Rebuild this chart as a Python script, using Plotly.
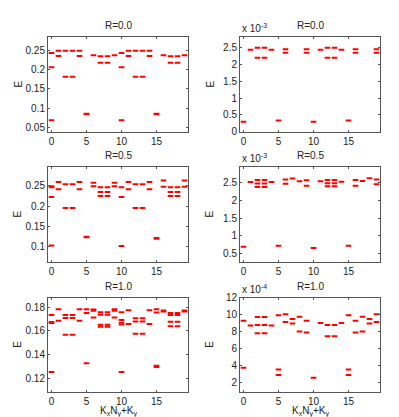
import plotly.graph_objects as go

# x axis index: Kx*Ny + Ky
k_index = list(range(20))

# -------------------------
# ENERGY LEVELS (one list per K index)
# -------------------------
levels_r00_a = [
    [0.2425, 0.2058, 0.069], [0.2483, 0.235], [0.2483, 0.181], [0.2483, 0.181],
    [0.2483, 0.235], [0.0845, 0.086], [0.2366], [0.234, 0.2175], [0.234, 0.2175],
    [0.2366], [0.2425, 0.2058, 0.069], [0.2483, 0.235], [0.2483, 0.181],
    [0.2483, 0.181], [0.2483, 0.235], [0.0845, 0.086], [0.2366], [0.234, 0.2175],
    [0.234, 0.2175], [0.2366],
]

# units of 1e-3
levels_r00_b = [
    [0.29], [2.45], [2.51, 2.21], [2.51, 2.21], [2.45], [0.33], [2.46, 2.355],
    [], [], [2.46, 2.355], [0.29], [2.45], [2.51, 2.21], [2.51, 2.21], [2.45],
    [0.33], [2.46, 2.355], [], [], [2.46, 2.355],
]

levels_r05_a = [
    [0.2495, 0.247, 0.2225, 0.102], [0.2596, 0.242], [0.254, 0.1952], [0.254, 0.1952],
    [0.2596, 0.242], [0.1225, 0.124], [0.258, 0.249], [0.247, 0.235, 0.225],
    [0.247, 0.235, 0.225], [0.258, 0.249], [0.247, 0.2225, 0.101], [0.2596, 0.242],
    [0.254, 0.1952], [0.254, 0.1952], [0.2596, 0.242], [0.119, 0.1205],
    [0.2637, 0.248], [0.247, 0.235, 0.225], [0.247, 0.235, 0.225], [0.2637, 0.248],
]

# units of 1e-3
levels_r05_b = [
    [0.70], [2.51], [2.57, 2.47, 2.37], [2.57, 2.47, 2.37], [2.51], [0.725],
    [2.58, 2.46], [2.61], [2.535], [2.56, 2.41], [0.665], [2.535],
    [2.57, 2.48, 2.39], [2.57, 2.48, 2.39], [2.52], [0.725], [2.57, 2.41],
    [2.54], [2.62], [2.58, 2.45],
]

levels_r10_a = [
    [0.1733, 0.1675, 0.1665, 0.1253], [0.1782, 0.1684], [0.1733, 0.1708, 0.1567],
    [0.1733, 0.1708, 0.1567], [0.1782, 0.1684], [0.1782, 0.1749, 0.1327],
    [0.178, 0.1768, 0.1712], [0.1757, 0.1736, 0.1651, 0.1635],
    [0.1757, 0.1736, 0.1651, 0.1635], [0.1782, 0.1768, 0.1712],
    [0.1757, 0.169, 0.1667, 0.1654, 0.1253], [0.1774, 0.1657],
    [0.1706, 0.1679, 0.1575], [0.1706, 0.1679, 0.1575], [0.1774, 0.1657],
    [0.1782, 0.1755, 0.1305, 0.1295], [0.1772, 0.1762],
    [0.1749, 0.1733, 0.1676, 0.1638], [0.1749, 0.1733, 0.1676, 0.1638],
    [0.1772, 0.1762],
]

# units of 1e-4
levels_r10_b = [
    [9.26, 3.69], [8.69], [9.69, 8.77, 7.77], [9.69, 8.77, 7.77], [8.69],
    [9.92, 3.5, 2.85], [10.03, 9.11], [9.46, 8.92], [9.73, 8.0], [9.26, 7.88],
    [2.5], [9.0], [8.77, 7.42], [8.77, 7.42], [9.0], [9.92, 3.5, 2.85],
    [9.26, 7.88], [9.73, 8.0], [9.46, 8.92], [10.03, 9.11],
]

titles = ["R=0.0", "R=0.0", "R=0.5", "R=0.5", "R=1.0", "R=1.0"]
exponents = [None, "-3", None, "-3", None, "-4"]


def flatten(levels):
    xs, ys = [], []
    for kk, lv in zip(k_index, levels):
        for e in lv:
            xs.append(kk)
            ys.append(e)
    return xs, ys


# -------------------------
# PANEL GEOMETRY (pixels, figure 399x417)
# -------------------------
W, H = 399, 417
col_px = [(40, 180), (232, 372)]
row_px = [(24, 121), (158, 255), (292, 389)]
y_ranges = [
    [0.04, 0.283], [0, 2.82],
    [0.062, 0.296], [0.28, 2.92],
    [0.1085, 0.188], [0.85, 12.0],
]
y_dticks = [0.05, 0.5, 0.05, 0.5, 0.02, 2]

all_levels = [levels_r00_a, levels_r00_b, levels_r05_a,
              levels_r05_b, levels_r10_a, levels_r10_b]

font = "Liberation Sans, Arial, sans-serif"
axis_col = "#555555"

fig = go.Figure()
layout = dict(
    width=W, height=H,
    margin=dict(l=0, r=0, t=0, b=0),
    paper_bgcolor="white",
    plot_bgcolor="white",
    showlegend=False,
    font=dict(family=font, size=10, color="#222222"),
)
annotations = []

for i, levels in enumerate(all_levels):
    n = i + 1
    row, col = divmod(i, 2)
    x0, x1 = col_px[col]
    ytop, ybot = row_px[row]
    xs, ys = flatten(levels)

    fig.add_trace(go.Scatter(
        x=xs, y=ys,
        mode="markers",
        marker=dict(symbol="line-ew", size=4,
                    line=dict(width=2, color="#ff0000")),
        xaxis=f"x{n}", yaxis=f"y{n}",
        hoverinfo="skip",
    ))

    common = dict(
        showline=True, mirror="ticks", linecolor=axis_col, linewidth=1,
        ticks="inside", ticklen=2, tickcolor=axis_col,
        showgrid=False, zeroline=False,
        tickfont=dict(family=font, size=10, color="#222222"),
    )
    layout[f"xaxis{n}"] = dict(
        domain=[x0 / W, x1 / W], anchor=f"y{n}",
        range=[-0.5, 19.5], tickvals=[0, 5, 10, 15], **common,
    )
    layout[f"yaxis{n}"] = dict(
        domain=[1 - ybot / H, 1 - ytop / H], anchor=f"x{n}",
        range=y_ranges[i], dtick=y_dticks[i], tick0=0, **common,
    )

    cx = (x0 + x1) / 2 / W
    # title
    annotations.append(dict(
        text=titles[i], x=cx, y=1 - ytop / H, xref="paper", yref="paper",
        xanchor="center", yanchor="bottom", yshift=4, showarrow=False,
        font=dict(size=10),
    ))
    # y label
    annotations.append(dict(
        text="E", x=(x0 - 30) / W, y=1 - (ytop + ybot) / 2 / H,
        xref="paper", yref="paper", textangle=-90,
        xanchor="center", yanchor="middle", showarrow=False,
        font=dict(size=10),
    ))
    # exponent label
    if exponents[i]:
        annotations.append(dict(
            text=f"x 10<sup>{exponents[i]}</sup>", x=x0 / W, y=1 - ytop / H,
            xref="paper", yref="paper", xanchor="left", yanchor="bottom",
            yshift=1, showarrow=False, font=dict(size=10),
        ))
    # x label on the bottom row
    if row == 2:
        annotations.append(dict(
            text="K<sub>x</sub>N<sub>y</sub>+K<sub>y</sub>", x=cx,
            y=1 - (ybot + 12) / H, xref="paper", yref="paper",
            xanchor="center", yanchor="top", showarrow=False,
            font=dict(size=10),
        ))

layout["annotations"] = annotations
fig.update_layout(**layout)

fig.write_html("out.html")
